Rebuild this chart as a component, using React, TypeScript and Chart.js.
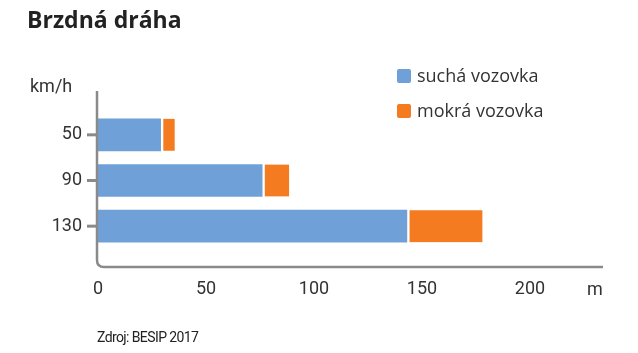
import React, { useEffect, useRef } from "react";
import { Chart, registerables } from "chart.js";

Chart.register(...registerables);

const categories = ["50", "90", "130"];
const dryValues = [29, 76, 143];
const wetExtra = [6.5, 12.5, 35];
const xTicks = [0, 50, 100, 150, 200];
const seriesNames = ["suchá vozovka", "mokrá vozovka"];
const colors = ["#6fa0d8", "#f47b20"];

const FONT = "Roboto, 'Noto Sans', sans-serif";
const LEGEND_FONT = "'Open Sans', Roboto, sans-serif";
const AXIS = "#8a8a8a";

const axisPlugin = {
  id: "customAxes",
  afterDatasetsDraw(chart: any) {
    const ctx = chart.ctx;
    const left = chart.chartArea.left - 1;
    const yScale = chart.scales.y;
    ctx.save();
    ctx.strokeStyle = AXIS;
    ctx.lineWidth = 2.5;
    const r = 7;
    const bottomY = 267;
    ctx.beginPath();
    ctx.moveTo(left, 91);
    ctx.lineTo(left, bottomY - r);
    ctx.quadraticCurveTo(left, bottomY, left + r, bottomY);
    ctx.lineTo(603, bottomY);
    ctx.stroke();
    ctx.lineWidth = 3;
    categories.forEach((_, i) => {
      const y = yScale.getPixelForValue(i);
      ctx.beginPath();
      ctx.moveTo(87, y);
      ctx.lineTo(left, y);
      ctx.stroke();
    });
    ctx.restore();
  },
};

export default function App() {
  const ref = useRef<HTMLCanvasElement | null>(null);
  useEffect(() => {
    if (!ref.current) return;
    const chart = new Chart(ref.current, {
      type: "bar",
      data: {
        labels: categories,
        datasets: [
          {
            label: seriesNames[0],
            data: dryValues,
            backgroundColor: colors[0],
            borderWidth: 0,
            barThickness: 32,
          },
          {
            label: seriesNames[1],
            data: wetExtra,
            backgroundColor: colors[1],
            borderColor: "#ffffff",
            borderWidth: { left: 3, right: 0, top: 0, bottom: 0 },
            borderSkipped: false,
            barThickness: 32,
          },
        ],
      },
      options: {
        indexAxis: "y",
        animation: false,
        responsive: true,
        maintainAspectRatio: false,
        layout: { padding: { left: 0, right: 108, top: 112, bottom: 0 } },
        plugins: { legend: { display: false }, tooltip: { enabled: false } },
        scales: {
          x: {
            stacked: true,
            min: 0,
            max: 200,
            grid: { display: false, drawTicks: false },
            border: { display: false },
            afterBuildTicks: (scale: any) => {
              scale.ticks = xTicks.map((v) => ({ value: v }));
            },
            afterFit: (scale: any) => {
              scale.height = 104;
            },
            ticks: {
              padding: 30,
              color: "#333",
              font: { family: FONT, size: 18 },
            },
          },
          y: {
            stacked: true,
            grid: { display: false, drawTicks: false },
            border: { display: false },
            afterFit: (scale: any) => {
              scale.width = 98;
            },
            ticks: {
              padding: 16,
              color: "#333",
              font: { family: FONT, size: 18 },
            },
          },
        },
      },
      plugins: [axisPlugin],
    } as any);
    return () => chart.destroy();
  }, []);

  const text: React.CSSProperties = {
    position: "absolute",
    fontFamily: FONT,
    color: "#333",
    whiteSpace: "nowrap",
  };

  return (
    <div
      style={{
        position: "fixed",
        left: 0,
        top: 0,
        width: 638,
        height: 353,
        background: "#fff",
      }}
    >
      <canvas ref={ref} style={{ position: "absolute", left: 0, top: 0 }} />
      <div
        style={{
          ...text,
          left: 27,
          top: 4,
          fontFamily: "'Open Sans', Lato, sans-serif",
          fontWeight: 700,
          fontSize: 23,
          lineHeight: "30px",
          color: "#222",
        }}
      >
        Brzdná dráha
      </div>
      <div style={{ ...text, left: 30, top: 74, fontSize: 18, lineHeight: "24px" }}>km/h</div>
      <div style={{ ...text, left: 587, top: 277, fontSize: 18, lineHeight: "24px" }}>m</div>
      <div
        style={{
          ...text,
          left: 97,
          top: 328,
          fontSize: 14,
          lineHeight: "18px",
          letterSpacing: "-0.6px",
          color: "#222",
        }}
      >
        Zdroj: BESIP 2017
      </div>
      {seriesNames.map((name, i) => (
        <div key={name} style={{ position: "absolute", left: 397, top: 63 + i * 35, height: 24 }}>
          <span
            style={{
              position: "absolute",
              left: 0,
              top: 6,
              width: 14,
              height: 14,
              borderRadius: 2,
              background: colors[i],
            }}
          />
          <span
            style={{
              ...text,
              left: 20,
              top: 0,
              fontFamily: LEGEND_FONT,
              fontSize: 18,
              lineHeight: "24px",
            }}
          >
            {name}
          </span>
        </div>
      ))}
    </div>
  );
}
